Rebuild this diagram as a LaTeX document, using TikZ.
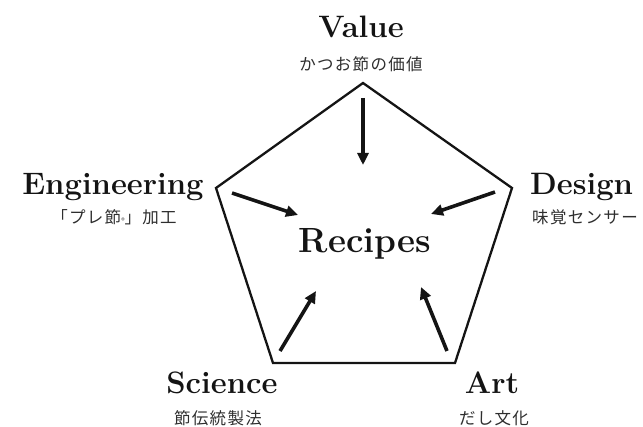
\documentclass[tikz,border=0pt]{standalone}
\usepackage{fontspec}
\newfontfamily\cjk[LetterSpace=8]{Noto Sans CJK JP}
\usetikzlibrary{arrows.meta}
\begin{document}
\begin{tikzpicture}[x=1pt,y=-1pt,
  title/.style={font=\fontsize{31}{36}\selectfont\bfseries, inner sep=0pt, text=black!92},
  sub/.style={font=\fontsize{16.5}{20}\selectfont\cjk, inner sep=0pt, text=black!82},
  pent/.style={line width=2.3pt, line join=miter, draw=black!92},
  arr/.style={line width=3.6pt, draw=black!92, -{Triangle[length=12pt,width=11pt]}}]
\useasboundingbox (0,0) rectangle (643,427);
% pentagon vertices
\coordinate (vT) at (363,83);
\coordinate (vR) at (512,188);
\coordinate (vBR) at (455,363);
\coordinate (vBL) at (273,363);
\coordinate (vL) at (216,188);
\draw[pent] (vT) -- (vR) -- (vBR) -- (vBL) -- (vL) -- cycle;
% centre
\node[title, font=\fontsize{35}{42}\selectfont\bfseries, anchor=base] (rec) at (365,253) {Recipes};
% labels
\node[title, anchor=base] (val) at (361,38) {Value};
\node[sub] (valsub) at (361,64) {かつお節の価値};
\node[title, anchor=base] (eng) at (113,195) {Engineering};
\node[sub] (engsub) at (114,217) {「プレ節{\fontsize{7}{7}\selectfont ®}」加工};
\node[title, anchor=base west] (des) at (530,195) {Design};
\node[sub, anchor=west] (dessub) at (532,217) {味覚センサー};
\node[title, anchor=base] (sci) at (222,394) {Science};
\node[sub] (scisub) at (218,418) {節伝統製法};
\node[title, anchor=base] (art) at (492,394) {Art};
\node[sub] (artsub) at (494,418) {だし文化};
% arrow ends
\coordinate (aT1) at (363,98);  \coordinate (aT2) at (363,165);
\coordinate (aL1) at (232,193); \coordinate (aL2) at (298,215);
\coordinate (aR1) at (495,192); \coordinate (aR2) at (431,214);
\coordinate (aBL1) at (280,351); \coordinate (aBL2) at (316,291);
\coordinate (aBR1) at (447,351); \coordinate (aBR2) at (421,287);
\draw[arr] (aT1) -- (aT2);
\draw[arr] (aL1) -- (aL2);
\draw[arr] (aR1) -- (aR2);
\draw[arr] (aBL1) -- (aBL2);
\draw[arr] (aBR1) -- (aBR2);
\end{tikzpicture}
\end{document}
